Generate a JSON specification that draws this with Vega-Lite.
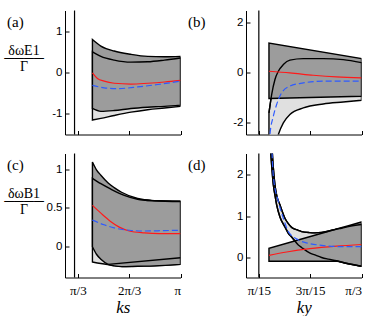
{
"$schema":"https://vega.github.io/schema/vega-lite/v6.json",
"background":"white",
"padding":{"left":3,"top":9.5,"right":0,"bottom":0},
"datasets":{
"a_light":[{"x":1.345,"y":-1.15,"y2":0.50},{"x":1.517,"y":-1.11,"y2":0.39},{"x":1.789,"y":-1.04,"y2":0.30},{"x":2.131,"y":-0.96,"y2":0.25},{"x":2.472,"y":-0.90,"y2":0.26},{"x":2.814,"y":-0.86,"y2":0.30},{"x":3.1416,"y":-0.82,"y2":0.35}],
"a_dark":[{"x":1.345,"y":-0.87,"y2":0.80},{"x":1.517,"y":-0.94,"y2":0.64},{"x":1.789,"y":-0.92,"y2":0.52},{"x":2.131,"y":-0.87,"y2":0.44},{"x":2.472,"y":-0.84,"y2":0.39},{"x":2.814,"y":-0.82,"y2":0.38},{"x":3.1416,"y":-0.79,"y2":0.39}],
"a_red":[{"x":1.345,"y":-0.01},{"x":1.447,"y":-0.145},{"x":1.584,"y":-0.21},{"x":1.789,"y":-0.26},{"x":2.131,"y":-0.28},{"x":2.472,"y":-0.26},{"x":2.814,"y":-0.23},{"x":3.1416,"y":-0.19}],
"a_blue":[{"x":1.345,"y":-0.31},{"x":1.584,"y":-0.37},{"x":1.857,"y":-0.39},{"x":2.267,"y":-0.35},{"x":2.677,"y":-0.29},{"x":3.1416,"y":-0.21}],
"b_light":[{"x":0.2921,"y":-5,"y2":-1.63},{"x":0.3141,"y":-4.0,"y2":-0.89},{"x":0.3410,"y":-3.0,"y2":-0.28},{"x":0.3686,"y":-2.5,"y2":0.05},{"x":0.4094,"y":-2.03,"y2":0.32},{"x":0.4631,"y":-1.69,"y2":0.50},{"x":0.5723,"y":-1.43,"y2":0.56},{"x":0.7352,"y":-1.27,"y2":0.56},{"x":0.8981,"y":-1.19,"y2":0.52},{"x":1.0472,"y":-1.12,"y2":0.40}],
"b_dark":[{"x":0.2921,"y":-1.05,"y2":1.19},{"x":1.0472,"y":-0.96,"y2":0.56}],
"b_red":[{"x":0.2921,"y":0.05},{"x":0.4631,"y":-0.015},{"x":0.6536,"y":-0.11},{"x":0.8436,"y":-0.18},{"x":1.0472,"y":-0.22}],
"b_blue":[{"x":0.2921,"y":-3.2},{"x":0.3002,"y":-2.5},{"x":0.3279,"y":-1.76},{"x":0.3548,"y":-1.29},{"x":0.3955,"y":-0.82},{"x":0.4631,"y":-0.55},{"x":0.5723,"y":-0.42},{"x":0.7352,"y":-0.35},{"x":1.0472,"y":-0.35}],
"c_light":[{"x":1.345,"y":-0.20,"y2":0.88},{"x":1.517,"y":-0.22,"y2":0.81},{"x":1.722,"y":-0.24,"y2":0.74},{"x":1.994,"y":-0.26,"y2":0.66},{"x":2.267,"y":-0.255,"y2":0.61},{"x":2.609,"y":-0.25,"y2":0.59},{"x":3.1416,"y":-0.23,"y2":0.58}],
"c_dark":[{"x":1.345,"y":-0.004,"y2":1.09},{"x":1.427,"y":-0.10,"y2":0.99},{"x":1.517,"y":-0.165,"y2":0.92},{"x":1.666,"y":-0.23,"y2":0.82},{"x":1.789,"y":-0.25,"y2":0.76},{"x":1.939,"y":-0.26,"y2":0.70},{"x":2.267,"y":-0.255,"y2":0.62},{"x":2.609,"y":-0.25,"y2":0.59},{"x":3.1416,"y":-0.23,"y2":0.585}],
"c_extra":[{"x":1.666,"y":-0.23},{"x":3.1416,"y":-0.146}],
"c_red":[{"x":1.345,"y":0.53},{"x":1.517,"y":0.43},{"x":1.722,"y":0.32},{"x":1.892,"y":0.25},{"x":2.097,"y":0.20},{"x":2.404,"y":0.175},{"x":2.711,"y":0.165},{"x":3.1416,"y":0.165}],
"c_blue":[{"x":1.345,"y":0.34},{"x":1.584,"y":0.28},{"x":1.789,"y":0.24},{"x":2.097,"y":0.21},{"x":2.404,"y":0.20},{"x":2.814,"y":0.205},{"x":3.1416,"y":0.21}],
"d_light":[{"x":0.3002,"y":2.8,"y2":3.6},{"x":0.3279,"y":1.75,"y2":2.15},{"x":0.3410,"y":1.5,"y2":1.75},{"x":0.3548,"y":1.27,"y2":1.5},{"x":0.3817,"y":0.98,"y2":1.27},{"x":0.4224,"y":0.74,"y2":0.95},{"x":0.4501,"y":0.59,"y2":0.82},{"x":0.4770,"y":0.50,"y2":0.73},{"x":0.5316,"y":0.31,"y2":0.66},{"x":0.5584,"y":0.25,"y2":0.63},{"x":0.6236,"y":0.12,"y2":0.605},{"x":0.6668,"y":0.07,"y2":0.60},{"x":0.7214,"y":0.01,"y2":0.61},{"x":0.7760,"y":-0.03,"y2":0.64},{"x":0.8436,"y":-0.07,"y2":0.69},{"x":0.8844,"y":-0.10,"y2":0.71},{"x":0.9413,"y":-0.14,"y2":0.75},{"x":1.0472,"y":-0.20,"y2":0.80}],
"d_dark":[{"x":0.2921,"y":-0.08,"y2":0.23},{"x":0.5584,"y":-0.08,"y2":0.452},{"x":0.8517,"y":-0.08,"y2":0.698},{"x":0.9413,"y":-0.14,"y2":0.77},{"x":1.0472,"y":-0.20,"y2":0.86}],
"d_red":[{"x":0.2921,"y":0.06},{"x":0.4363,"y":0.14},{"x":0.6263,"y":0.22},{"x":0.8436,"y":0.28},{"x":1.0472,"y":0.32}],
"d_blue":[{"x":0.3141,"y":2.75},{"x":0.3279,"y":1.95},{"x":0.3686,"y":1.35},{"x":0.4094,"y":0.95},{"x":0.4501,"y":0.63},{"x":0.5316,"y":0.43},{"x":0.6130,"y":0.35},{"x":0.7214,"y":0.30},{"x":0.8844,"y":0.27},{"x":1.0472,"y":0.27}]
},
"concat":[
{"width":115.5,"height":124,"title":{"text":"(a)"},
"layer":[
{"data":{"name":"a_light"},"mark":{"type":"area","interpolate":"monotone","fill":"#e0e0e0","stroke":"black","strokeWidth":1.4,"clip":true},
"encoding":{"x":{"field":"x","type":"quantitative","scale":{"domain":[0.785398,3.141593],"nice":false,"zero":false},"axis":{"values":[1.047198,2.094395,3.141593],"labels":false,"title":null}},
"y":{"field":"y","type":"quantitative","scale":{"domain":[-1.5,1.5],"nice":false,"zero":false},"axis":{"values":[-1,0,1],"title":["δωE1","────","Γ"],"titleX":-41.5,"titleY":40}},"y2":{"field":"y2"}}},
{"data":{"name":"a_dark"},"mark":{"type":"area","interpolate":"monotone","fill":"#9c9c9c","stroke":"black","strokeWidth":1.4,"clip":true},
"encoding":{"x":{"field":"x","type":"quantitative","scale":{"domain":[0.785398,3.141593],"nice":false,"zero":false}},"y":{"field":"y","type":"quantitative","scale":{"domain":[-1.5,1.5],"nice":false,"zero":false}},"y2":{"field":"y2"}}},
{"data":{"name":"a_light"},"mark":{"type":"line","interpolate":"monotone","color":"black","strokeWidth":1.4,"clip":true},
"encoding":{"x":{"field":"x","type":"quantitative","scale":{"domain":[0.785398,3.141593],"nice":false,"zero":false}},"y":{"field":"y2","type":"quantitative","scale":{"domain":[-1.5,1.5],"nice":false,"zero":false}}}},
{"data":{"name":"a_red"},"mark":{"type":"line","interpolate":"monotone","color":"#ff1a1a","strokeWidth":1.2,"clip":true},
"encoding":{"x":{"field":"x","type":"quantitative","scale":{"domain":[0.785398,3.141593],"nice":false,"zero":false}},"y":{"field":"y","type":"quantitative","scale":{"domain":[-1.5,1.5],"nice":false,"zero":false}}}},
{"data":{"name":"a_blue"},"mark":{"type":"line","interpolate":"monotone","color":"#2e5bff","strokeWidth":1.2,"strokeDash":[6,3],"clip":true},
"encoding":{"x":{"field":"x","type":"quantitative","scale":{"domain":[0.785398,3.141593],"nice":false,"zero":false}},"y":{"field":"y","type":"quantitative","scale":{"domain":[-1.5,1.5],"nice":false,"zero":false}}}},
{"data":{"values":[{}]},"mark":{"type":"rule","color":"black","strokeWidth":1.2},"encoding":{"x":{"datum":0.98,"type":"quantitative"}}}
]},
{"width":115.5,"height":124,"title":{"text":"(b)"},
"layer":[
{"data":{"name":"b_light"},"mark":{"type":"area","interpolate":"monotone","fill":"#e0e0e0","stroke":"black","strokeWidth":1.4,"clip":true},
"encoding":{"x":{"field":"x","type":"quantitative","scale":{"domain":[0.10472,1.047198],"nice":false,"zero":false},"axis":{"values":[0.20944,0.628319,1.047198],"labels":false,"title":null}},
"y":{"field":"y","type":"quantitative","scale":{"domain":[-2.5,2.5],"nice":false,"zero":false},"axis":{"values":[-2,0,2],"title":null}},"y2":{"field":"y2"}}},
{"data":{"name":"b_dark"},"mark":{"type":"area","fill":"#9c9c9c","stroke":"black","strokeWidth":1.4,"clip":true},
"encoding":{"x":{"field":"x","type":"quantitative","scale":{"domain":[0.10472,1.047198],"nice":false,"zero":false}},"y":{"field":"y","type":"quantitative","scale":{"domain":[-2.5,2.5],"nice":false,"zero":false}},"y2":{"field":"y2"}}},
{"data":{"name":"b_light"},"mark":{"type":"line","interpolate":"monotone","color":"black","strokeWidth":1.4,"clip":true},
"encoding":{"x":{"field":"x","type":"quantitative","scale":{"domain":[0.10472,1.047198],"nice":false,"zero":false}},"y":{"field":"y2","type":"quantitative","scale":{"domain":[-2.5,2.5],"nice":false,"zero":false}}}},
{"data":{"name":"b_red"},"mark":{"type":"line","interpolate":"monotone","color":"#ff1a1a","strokeWidth":1.2,"clip":true},
"encoding":{"x":{"field":"x","type":"quantitative","scale":{"domain":[0.10472,1.047198],"nice":false,"zero":false}},"y":{"field":"y","type":"quantitative","scale":{"domain":[-2.5,2.5],"nice":false,"zero":false}}}},
{"data":{"name":"b_blue"},"mark":{"type":"line","interpolate":"monotone","color":"#2e5bff","strokeWidth":1.2,"strokeDash":[6,3],"clip":true},
"encoding":{"x":{"field":"x","type":"quantitative","scale":{"domain":[0.10472,1.047198],"nice":false,"zero":false}},"y":{"field":"y","type":"quantitative","scale":{"domain":[-2.5,2.5],"nice":false,"zero":false}}}},
{"data":{"values":[{}]},"mark":{"type":"rule","color":"black","strokeWidth":1.2},"encoding":{"x":{"datum":0.20944,"type":"quantitative"}}}
]},
{"width":115.5,"height":124,"title":{"text":"(c)"},
"layer":[
{"data":{"name":"c_light"},"mark":{"type":"area","interpolate":"monotone","fill":"#e0e0e0","stroke":"black","strokeWidth":1.4,"clip":true},
"encoding":{"x":{"field":"x","type":"quantitative","scale":{"domain":[0.785398,3.141593],"nice":false,"zero":false},"axis":{"values":[1.047198,2.094395,3.141593],"labelExpr":"datum.value < 1.5 ? 'π/3' : datum.value < 2.5 ? '2π/3' : 'π'","title":"ks"}},
"y":{"field":"y","type":"quantitative","scale":{"domain":[-0.4,1.2],"nice":false,"zero":false},"axis":{"values":[0,0.5,1],"title":["δωB1","────","Γ"],"titleX":-41.5,"titleY":40}},"y2":{"field":"y2"}}},
{"data":{"name":"c_dark"},"mark":{"type":"area","interpolate":"monotone","fill":"#9c9c9c","stroke":"black","strokeWidth":1.4,"clip":true},
"encoding":{"x":{"field":"x","type":"quantitative","scale":{"domain":[0.785398,3.141593],"nice":false,"zero":false}},"y":{"field":"y","type":"quantitative","scale":{"domain":[-0.4,1.2],"nice":false,"zero":false}},"y2":{"field":"y2"}}},
{"data":{"name":"c_light"},"mark":{"type":"line","interpolate":"monotone","color":"black","strokeWidth":1.4,"clip":true},
"encoding":{"x":{"field":"x","type":"quantitative","scale":{"domain":[0.785398,3.141593],"nice":false,"zero":false}},"y":{"field":"y2","type":"quantitative","scale":{"domain":[-0.4,1.2],"nice":false,"zero":false}}}},
{"data":{"name":"c_extra"},"mark":{"type":"line","color":"black","strokeWidth":1.4,"clip":true},
"encoding":{"x":{"field":"x","type":"quantitative","scale":{"domain":[0.785398,3.141593],"nice":false,"zero":false}},"y":{"field":"y","type":"quantitative","scale":{"domain":[-0.4,1.2],"nice":false,"zero":false}}}},
{"data":{"name":"c_red"},"mark":{"type":"line","interpolate":"monotone","color":"#ff1a1a","strokeWidth":1.2,"clip":true},
"encoding":{"x":{"field":"x","type":"quantitative","scale":{"domain":[0.785398,3.141593],"nice":false,"zero":false}},"y":{"field":"y","type":"quantitative","scale":{"domain":[-0.4,1.2],"nice":false,"zero":false}}}},
{"data":{"name":"c_blue"},"mark":{"type":"line","interpolate":"monotone","color":"#2e5bff","strokeWidth":1.2,"strokeDash":[6,3],"clip":true},
"encoding":{"x":{"field":"x","type":"quantitative","scale":{"domain":[0.785398,3.141593],"nice":false,"zero":false}},"y":{"field":"y","type":"quantitative","scale":{"domain":[-0.4,1.2],"nice":false,"zero":false}}}},
{"data":{"values":[{}]},"mark":{"type":"rule","color":"black","strokeWidth":1.2},"encoding":{"x":{"datum":0.98,"type":"quantitative"}}}
]},
{"width":115.5,"height":124,"title":{"text":"(d)"},
"layer":[
{"data":{"name":"d_light"},"mark":{"type":"area","interpolate":"monotone","fill":"#e0e0e0","stroke":"black","strokeWidth":1.4,"clip":true},
"encoding":{"x":{"field":"x","type":"quantitative","scale":{"domain":[0.10472,1.047198],"nice":false,"zero":false},"axis":{"values":[0.20944,0.628319,1.047198],"labelExpr":"datum.value < 0.4 ? 'π/15' : datum.value < 0.8 ? '3π/15' : 'π/3'","title":"ky"}},
"y":{"field":"y","type":"quantitative","scale":{"domain":[-0.47,2.5],"nice":false,"zero":false},"axis":{"values":[0,1,2],"title":null}},"y2":{"field":"y2"}}},
{"data":{"name":"d_dark"},"mark":{"type":"area","fill":"#9c9c9c","stroke":"black","strokeWidth":1.4,"clip":true},
"encoding":{"x":{"field":"x","type":"quantitative","scale":{"domain":[0.10472,1.047198],"nice":false,"zero":false}},"y":{"field":"y","type":"quantitative","scale":{"domain":[-0.47,2.5],"nice":false,"zero":false}},"y2":{"field":"y2"}}},
{"data":{"name":"d_light"},"mark":{"type":"line","interpolate":"monotone","color":"black","strokeWidth":1.4,"clip":true},
"encoding":{"x":{"field":"x","type":"quantitative","scale":{"domain":[0.10472,1.047198],"nice":false,"zero":false}},"y":{"field":"y2","type":"quantitative","scale":{"domain":[-0.47,2.5],"nice":false,"zero":false}}}},
{"data":{"name":"d_light"},"mark":{"type":"line","interpolate":"monotone","color":"black","strokeWidth":1.4,"clip":true},
"encoding":{"x":{"field":"x","type":"quantitative","scale":{"domain":[0.10472,1.047198],"nice":false,"zero":false}},"y":{"field":"y","type":"quantitative","scale":{"domain":[-0.47,2.5],"nice":false,"zero":false}}}},
{"data":{"name":"d_red"},"mark":{"type":"line","interpolate":"monotone","color":"#ff1a1a","strokeWidth":1.2,"clip":true},
"encoding":{"x":{"field":"x","type":"quantitative","scale":{"domain":[0.10472,1.047198],"nice":false,"zero":false}},"y":{"field":"y","type":"quantitative","scale":{"domain":[-0.47,2.5],"nice":false,"zero":false}}}},
{"data":{"name":"d_blue"},"mark":{"type":"line","interpolate":"monotone","color":"#2e5bff","strokeWidth":1.2,"strokeDash":[6,3],"clip":true},
"encoding":{"x":{"field":"x","type":"quantitative","scale":{"domain":[0.10472,1.047198],"nice":false,"zero":false}},"y":{"field":"y","type":"quantitative","scale":{"domain":[-0.47,2.5],"nice":false,"zero":false}}}},
{"data":{"values":[{}]},"mark":{"type":"rule","color":"black","strokeWidth":1.2},"encoding":{"x":{"datum":0.20944,"type":"quantitative"}}}
]}
],
"columns":2,
"spacing":{"row":19,"column":65},
"bounds":"flush",
"config":{
"view":{"stroke":null},
"axis":{"domainColor":"black","tickColor":"black","labelColor":"black","titleColor":"black","grid":false,"tickSize":-4,"domainWidth":1,"tickWidth":1},
"axisY":{"labelFont":"Liberation Sans","labelFontSize":11.5,"labelPadding":7,"labelExpr":"replace(format(datum.value,'~g'),'−','-')","titleAngle":0,"titleAlign":"center","titleBaseline":"middle","titleFont":"Liberation Serif","titleFontSize":14,"titleFontWeight":"normal","titleLineHeight":8},
"axisX":{"labelFont":"Liberation Serif","labelFontSize":13,"labelPadding":11,"titleFont":"Liberation Serif","titleFontSize":17,"titleFontStyle":"italic","titleFontWeight":"normal","titlePadding":2},
"title":{"font":"Liberation Serif","fontSize":15,"fontWeight":"normal","anchor":"start","frame":"group","dx":-58,"dy":24,"baseline":"top","offset":0,"color":"black"}
}
}
